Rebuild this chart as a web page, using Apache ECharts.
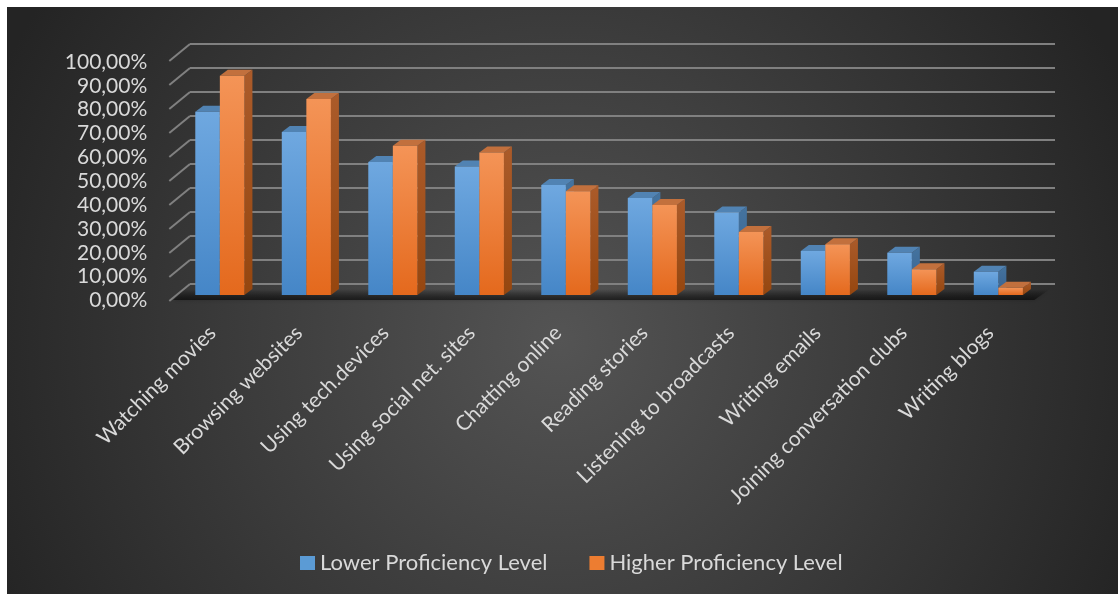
<!DOCTYPE html>
<html>
<head>
<meta charset="utf-8">
<script src="https://cdn.jsdelivr.net/npm/echarts@6/dist/echarts.min.js"></script>
<style>
  html, body { margin: 0; padding: 0; background: #ffffff; }
  #chart { width: 1118px; height: 594px; }
</style>
</head>
<body>
<div id="chart"></div>
<script>
// Activities and the share of learners at each proficiency level (percent)
const categories = [
  'Watching movies', 'Browsing websites', 'Using tech.devices', 'Using social net. sites',
  'Chatting online', 'Reading stories', 'Listening to broadcasts', 'Writing emails',
  'Joining conversation clubs', 'Writing blogs'
];
const lowerLevel  = [76.4, 67.9, 55.4, 53.5, 45.8, 40.4, 34.4, 18.3, 17.6, 9.7];
const higherLevel = [91.4, 81.7, 62.2, 59.4, 43.2, 37.5, 26.3, 21.1, 10.7, 3.0];
const seriesNames = ['Lower Proficiency Level', 'Higher Proficiency Level'];
const yTicks = [0, 10, 20, 30, 40, 50, 60, 70, 80, 90, 100];

const FONT = 'Lato, "Noto Sans", sans-serif';
const TEXT = '#d9d9d9';

// pseudo-3D geometry (pixels): wall depth, bar placement in depth, bar thickness
const WALL_DX = -20.7, WALL_DY = 17;
const BAR_DX = -13.4, BAR_DY = 11;
const BAR_DEPTH_X = 8, BAR_DEPTH_Y = -6;
const BAR_RATIO = 0.284;

const palettes = [
  { front: ['#6fa8e0', '#4586c7'], top: '#5183b3', side: ['#44739f', '#386290'], flat: '#5b9bd5' },
  { front: ['#f49457', '#e4691d'], top: '#c2703d', side: ['#ab5b2a', '#95460f'], flat: '#ed7d31' }
];

function lg(c0, c1) {
  return new echarts.graphic.LinearGradient(0, 0, 0, 1, [{ offset: 0, color: c0 }, { offset: 1, color: c1 }]);
}

function barRenderer(sIdx) {
  const pal = palettes[sIdx];
  return function (params, api) {
    const cat = api.value(0);
    const val = api.value(1);
    const top = api.coord([cat, val]);
    const base = api.coord([cat, 0]);
    const bw = api.size([1, 0])[0] * BAR_RATIO;
    const cx = top[0] + BAR_DX;
    const xl = sIdx === 0 ? cx - bw : cx;
    const xr = xl + bw;
    const yt = top[1] + BAR_DY;
    const yb = base[1] + BAR_DY;
    const dx = BAR_DEPTH_X, dy = BAR_DEPTH_Y;
    return {
      type: 'group',
      children: [
        { type: 'polygon', shape: { points: [[xr, yt], [xr + dx, yt + dy], [xr + dx, yb + dy], [xr, yb]] },
          style: { fill: lg(pal.side[0], pal.side[1]) } },
        { type: 'polygon', shape: { points: [[xl, yt], [xr, yt], [xr + dx, yt + dy], [xl + dx, yt + dy]] },
          style: { fill: pal.top } },
        { type: 'rect', shape: { x: xl, y: yt, width: bw, height: yb - yt },
          style: { fill: lg(pal.front[0], pal.front[1]) } }
      ]
    };
  };
}

const chart = echarts.init(document.getElementById('chart'), null, { renderer: 'canvas' });

const option = {
  animation: false,
  backgroundColor: '#ffffff',
  graphic: [{
    type: 'rect', z: -100, silent: true,
    shape: { x: 7, y: 7, width: 1111, height: 587 },
    style: {
      fill: new echarts.graphic.RadialGradient(560, 340, 620, [
        { offset: 0, color: '#545454' },
        { offset: 1, color: '#242424' }
      ], true)
    }
  }],
  legend: {
    data: seriesNames,
    left: 295, top: 547,
    icon: 'rect', itemWidth: 15, itemHeight: 14, itemGap: 42,
    textStyle: { color: TEXT, fontFamily: FONT, fontSize: 22 }
  },
  grid: [
    // back wall of the plot
    { left: 190, right: 63, top: 44, bottom: 310 },
    // front edge of the floor, carries the axis labels
    { left: 169.3, right: 84.7, top: 62, bottom: 293.5 }
  ],
  xAxis: [
    { type: 'category', gridIndex: 0, data: categories,
      axisLine: { show: false }, axisTick: { show: false }, axisLabel: { show: false } },
    { type: 'category', gridIndex: 1, data: categories,
      axisLine: { show: false }, axisTick: { show: false },
      axisLabel: { interval: 0, rotate: 45, margin: 29, color: TEXT, fontFamily: FONT, fontSize: 21 } }
  ],
  yAxis: [
    { type: 'value', gridIndex: 0, min: 0, max: 100, interval: 10,
      axisLabel: { show: false }, axisLine: { show: false }, axisTick: { show: false },
      splitLine: { lineStyle: { color: '#808080', width: 2 } } },
    { type: 'value', gridIndex: 1, min: 0, max: 100, interval: 10,
      axisLine: { show: false }, axisTick: { show: false }, splitLine: { show: false },
      axisLabel: { margin: 22, color: TEXT, fontFamily: FONT, fontSize: 21,
        formatter: v => v.toFixed(2).replace('.', ',') + '%' } }
  ],
  series: [
    // slanted lines joining the wall gridlines to the value labels
    { type: 'custom', xAxisIndex: 0, yAxisIndex: 0, z: 1, silent: true,
      data: yTicks.map(t => [0, t]),
      renderItem: function (params, api) {
        const p = api.coord([0, api.value(1)]);
        const x0 = params.coordSys.x;
        return { type: 'line',
          shape: { x1: x0, y1: p[1], x2: x0 + WALL_DX, y2: p[1] + WALL_DY },
          style: { stroke: '#808080', lineWidth: 2 } };
      } },
    // floor shadow under the bars
    { type: 'custom', xAxisIndex: 0, yAxisIndex: 0, z: 1, silent: true,
      data: [[0, 0]],
      renderItem: function (params, api) {
        const cs = params.coordSys;
        const y0 = api.coord([0, 0])[1];
        const pts = [
          [cs.x - 5, y0 + 5], [cs.x + cs.width - 5, y0 + 5],
          [cs.x + cs.width + WALL_DX, y0 + WALL_DY - 1], [cs.x + WALL_DX + 4, y0 + WALL_DY - 1]
        ];
        return { type: 'polygon', shape: { points: pts },
          style: { fill: lg('rgba(0,0,0,0)', 'rgba(0,0,0,0.55)'), shadowBlur: 4, shadowColor: 'rgba(0,0,0,0.4)' } };
      } },
    { name: seriesNames[0], type: 'custom', xAxisIndex: 0, yAxisIndex: 0, z: 3,
      itemStyle: { color: palettes[0].flat },
      data: lowerLevel.map((v, i) => [i, v]),
      renderItem: barRenderer(0) },
    { name: seriesNames[1], type: 'custom', xAxisIndex: 0, yAxisIndex: 0, z: 4,
      itemStyle: { color: palettes[1].flat },
      data: higherLevel.map((v, i) => [i, v]),
      renderItem: barRenderer(1) }
  ]
};

chart.setOption(option);
</script>
</body>
</html>
